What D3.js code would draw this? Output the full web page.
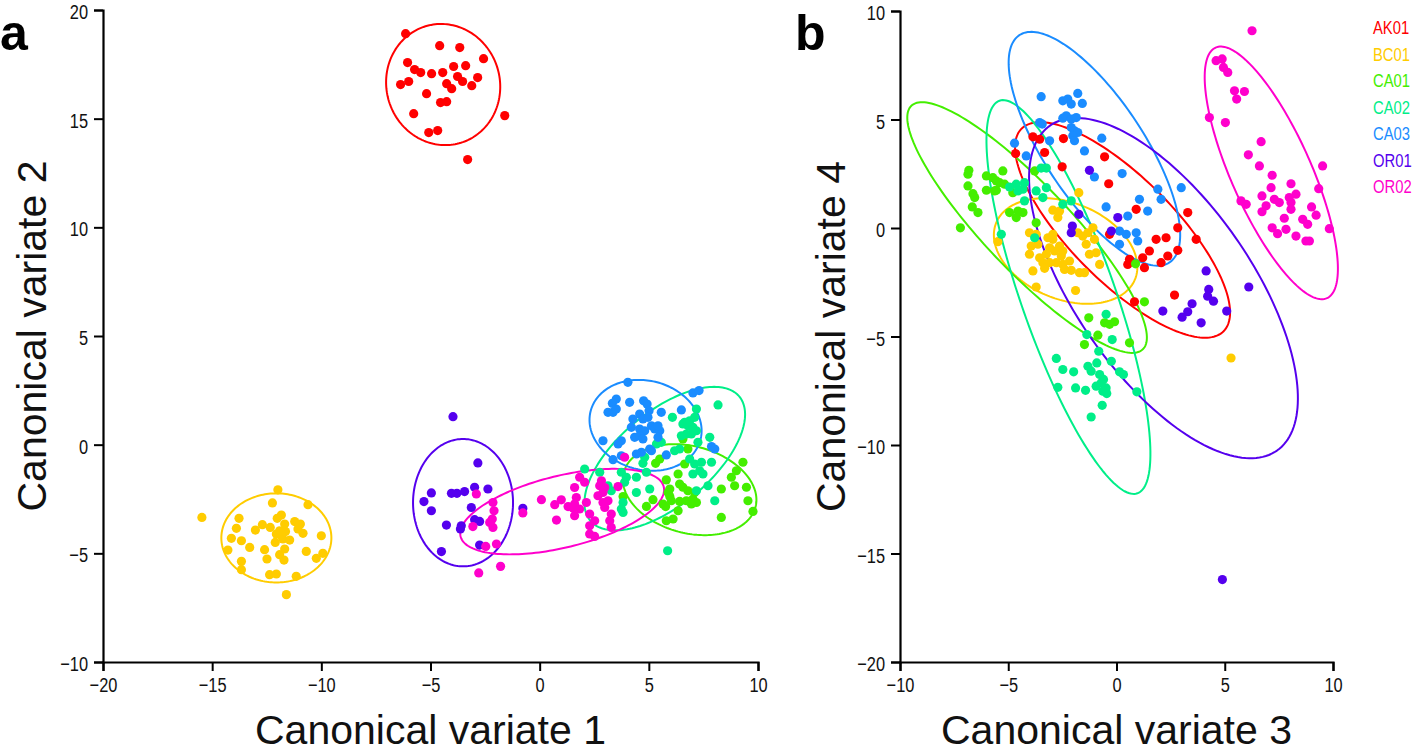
<!DOCTYPE html>
<html><head><meta charset="utf-8">
<script src="https://cdn.jsdelivr.net/npm/d3@7"></script>
<style>body{margin:0;background:#fff;overflow:hidden} svg{display:block}</style>
</head><body>
<script>
// ---------- categories / colours ----------
const groups = ["AK01","BC01","CA01","CA02","CA03","OR01","OR02"];
const colors = ["#ff0000","#ffcc00","#44ee00","#00ee88","#1a8cff","#5500ee","#ff00cc"];

// ---------- tick labels ----------
const xTicksA = [-20,-15,-10,-5,0,5,10];
const yTicksA = [-10,-5,0,5,10,15,20];
const xTicksB = [-10,-5,0,5,10];
const yTicksB = [-20,-15,-10,-5,0,5,10];

// ---------- panel a: Canonical variate 1 (x) vs 2 (y) ----------
const a_AK01 = [[-6.14,18.91],[-4.58,18.36],[-3.66,18.27],[-2.57,17.76],[-6.05,17.58],[-5.73,17.26],[-5.45,17.12],[-4.95,17.07],[-4.44,17.12],[-3.94,17.40],[-3.39,17.44],[-3.76,16.94],[-3.53,16.71],[-2.84,16.89],[-3.11,16.52],[-4.26,16.61],[-4.03,16.38],[-6.37,16.57],[-6.00,16.71],[-5.18,16.15],[-4.54,15.74],[-4.26,15.78],[-5.77,15.23],[-5.08,14.36],[-4.67,14.45],[-1.60,15.14],[-3.30,13.12]];
const a_BC01 = [[-11.99,-2.08],[-12.24,-2.68],[-10.61,-2.76],[-15.47,-3.35],[-13.77,-3.39],[-11.83,-3.24],[-12.02,-3.39],[-12.70,-3.68],[-12.34,-3.81],[-11.68,-3.65],[-11.22,-3.54],[-10.96,-3.65],[-11.07,-3.88],[-13.89,-3.85],[-13.02,-3.93],[-11.91,-3.96],[-11.64,-4.00],[-10.84,-4.08],[-10.00,-4.19],[-14.12,-4.31],[-13.66,-4.42],[-11.76,-4.34],[-11.45,-4.39],[-12.11,-4.50],[-13.28,-4.73],[-12.60,-4.83],[-11.68,-4.80],[-14.28,-4.85],[-10.69,-4.91],[-11.91,-5.06],[-9.93,-5.00],[-10.23,-5.23],[-12.49,-5.26],[-11.71,-5.31],[-13.66,-5.37],[-13.66,-5.75],[-12.37,-5.98],[-12.06,-5.95],[-11.15,-6.06],[-11.60,-6.90],[-12.06,-4.11],[-11.83,-4.19]];
const a_CA01 = [[6.56,0.26],[6.79,-0.20],[5.31,-0.86],[5.50,-0.66],[6.34,-1.35],[6.64,-0.89],[5.80,-1.62],[6.41,-1.81],[6.56,-1.96],[6.79,-2.12],[5.96,-2.04],[5.88,-2.20],[5.96,-2.39],[6.03,-2.58],[5.65,-2.73],[5.77,-2.85],[3.82,-2.39],[5.19,-2.53],[4.89,-2.84],[6.41,-2.61],[6.72,-2.58],[7.02,-2.50],[7.18,-2.66],[6.95,-2.73],[6.34,-3.04],[5.80,-3.50],[6.11,-3.42],[7.10,-2.20],[8.32,-2.04],[8.93,-1.89],[8.78,-1.50],[9.01,-1.20],[9.31,-0.81],[9.47,-1.96],[9.54,-2.58],[9.77,-3.07],[8.32,-3.35]];
const a_CA02 = [[6.56,0.95],[6.79,0.87],[7.02,0.80],[7.18,0.64],[6.49,0.41],[6.72,0.49],[6.95,0.49],[7.25,0.11],[7.79,0.34],[5.35,0.03],[5.57,0.11],[6.18,-0.28],[6.41,-0.20],[4.73,-0.86],[4.89,-1.27],[7.10,-0.89],[7.41,-0.81],[7.33,-1.20],[7.02,-1.35],[7.48,-1.35],[7.87,-0.81],[7.18,-2.12],[7.71,-1.89],[8.02,-2.58],[2.06,-1.12],[2.75,-1.27],[3.74,-1.27],[3.97,-1.50],[4.43,-1.50],[3.89,-1.73],[3.13,-1.89],[3.28,-2.12],[4.43,-2.20],[5.04,-2.04],[3.82,-2.66],[3.74,-2.96],[3.82,-3.12],[8.17,1.83],[7.18,1.64],[6.08,1.26],[6.64,1.03],[6.87,1.10],[7.10,1.26],[6.87,-0.66],[4.81,-0.58],[5.86,-4.88]];
const a_CA03 = [[4.04,2.87],[7.02,2.38],[7.30,2.49],[3.51,2.10],[3.33,1.90],[3.13,1.49],[3.36,1.49],[3.51,1.64],[4.12,1.95],[4.76,2.02],[4.92,1.87],[5.01,1.56],[4.58,1.41],[4.27,1.18],[4.73,1.18],[4.96,1.26],[5.57,1.49],[6.49,1.60],[4.20,0.80],[4.58,0.72],[4.81,0.64],[4.35,0.34],[4.58,0.41],[4.73,0.26],[5.12,0.87],[5.27,0.72],[5.50,0.64],[5.42,0.87],[2.90,0.18],[3.74,0.18],[3.59,0.03],[5.04,-0.20],[5.12,-0.28],[4.66,-0.35],[4.43,-0.43],[3.36,-0.69],[3.74,-0.51],[5.80,-0.47],[7.87,-0.09],[8.02,-0.20],[5.42,0.34]];
const a_OR01 = [[-3.97,1.29],[-2.83,-0.84],[-4.96,-2.22],[-4.04,-2.24],[-3.79,-2.24],[-3.44,-2.16],[-2.98,-1.96],[-2.37,-2.04],[-5.30,-2.62],[-4.96,-3.04],[-3.13,-2.89],[-2.98,-3.45],[-2.75,-3.53],[-4.27,-3.70],[-3.59,-3.73],[-3.63,-3.88],[-0.77,-2.93],[-2.75,-4.62],[-4.50,-4.92]];
const a_OR02 = [[-2.90,-2.27],[-2.14,-2.66],[-2.09,-3.04],[-2.17,-3.42],[-2.29,-3.58],[-2.14,-3.81],[-3.06,-3.77],[-0.77,-3.14],[-2.47,-4.68],[-1.98,-4.57],[-1.79,-5.60],[-2.79,-5.90],[0.08,-2.53],[0.69,-2.76],[0.99,-2.54],[1.30,-2.85],[1.53,-2.91],[0.77,-3.47],[1.83,-1.50],[2.06,-1.73],[1.60,-1.97],[2.83,-1.66],[2.75,-1.89],[2.98,-1.97],[2.90,-2.20],[2.67,-2.35],[3.59,-1.93],[1.68,-2.43],[2.14,-2.66],[1.60,-2.73],[1.83,-2.96],[2.90,-2.66],[3.13,-2.58],[2.98,-2.89],[2.29,-3.19],[3.28,-3.19],[1.60,-3.27],[2.52,-3.50],[3.21,-3.50],[2.29,-3.73],[3.28,-3.81],[2.29,-4.11],[2.52,-4.22],[3.89,-0.58]];

// ---------- panel b: Canonical variate 3 (x) vs 4 (y) ----------
const b_AK01 = [[-3.86,4.20],[-3.55,4.09],[-2.45,4.12],[-4.66,3.43],[-3.32,3.48],[-2.51,2.82],[-0.55,3.28],[-0.36,2.04],[0.91,0.86],[-0.32,-0.29],[1.83,-0.52],[2.29,-0.45],[0.60,-1.44],[1.21,-1.37],[1.52,-1.06],[0.52,-1.68],[1.29,-1.83],[2.06,-1.60],[0.83,-3.40],[3.29,0.71],[2.83,0.01],[3.68,-0.52],[2.83,-1.03],[2.37,-1.29],[2.68,-3.09]];
const b_BC01 = [[-1.74,1.63],[-2.94,0.82],[-2.63,0.78],[-2.71,0.48],[-4.02,-0.22],[-3.71,-0.29],[-3.94,-0.83],[-3.63,-0.75],[-3.17,-0.45],[-2.94,-0.29],[-2.94,-0.52],[-5.48,-0.63],[-4.02,-1.21],[-3.55,-1.37],[-3.24,-1.21],[-3.09,-0.91],[-2.86,-1.06],[-2.63,-0.83],[-2.48,-1.06],[-2.55,-1.29],[-1.79,-0.22],[-1.56,-0.37],[-1.32,-0.22],[-1.09,0.01],[-1.02,-0.52],[-1.40,-0.75],[-1.25,-1.21],[-0.94,-1.14],[-3.40,-1.60],[-3.09,-1.60],[-2.78,-1.60],[-2.48,-1.68],[-2.17,-1.52],[-3.86,-1.98],[-3.32,-1.86],[-2.40,-1.91],[-2.09,-1.95],[-1.71,-2.06],[-1.48,-2.06],[-0.78,-1.68],[-3.71,-2.72],[-1.89,-2.88],[5.29,-5.99]];
const b_CA01 = [[-6.82,2.66],[-6.86,2.48],[-6.01,2.40],[-5.71,2.32],[-5.55,2.17],[-5.25,2.63],[-5.40,2.09],[-5.17,2.02],[-5.55,1.74],[-6.86,1.94],[-6.63,1.58],[-6.55,1.40],[-6.01,1.74],[-5.63,1.71],[-6.66,0.97],[-6.40,0.71],[-7.21,0.01],[-4.94,0.71],[-4.55,0.78],[-4.32,0.71],[-4.63,0.48],[-4.79,1.63],[-3.71,0.24],[-3.78,2.63],[1.29,-3.40],[0.88,-1.65],[-1.28,-4.14],[-0.55,-4.37],[-0.32,-4.44],[-0.09,-4.32],[-0.86,-4.94],[-1.48,-5.37],[0.60,-5.29]];
const b_CA02 = [[-3.48,2.76],[-3.24,2.76],[-4.63,2.02],[-4.25,2.09],[-4.55,1.71],[-4.32,1.79],[-3.71,1.71],[-3.40,1.40],[-3.24,1.86],[-4.94,1.89],[-4.25,1.25],[-2.48,1.09],[-2.09,1.25],[-5.32,-0.29],[-3.78,-0.45],[-0.48,-3.98],[-1.37,-4.91],[-0.82,-5.68],[-0.91,-6.22],[-0.24,-6.14],[-2.78,-6.01],[-2.48,-6.52],[-1.98,-6.63],[-1.32,-6.37],[-1.17,-6.60],[-0.78,-6.75],[-0.60,-6.98],[-0.71,-7.14],[-0.48,-7.37],[0.14,-6.63],[0.32,-6.75],[-2.71,-7.34],[-1.89,-7.37],[-1.43,-7.48],[-0.94,-7.29],[-0.63,-7.52],[-0.45,-7.63],[0.94,-7.55],[-0.66,-8.17],[-1.17,-8.71],[-0.20,-5.14]];
const b_CA03 = [[-3.48,6.05],[-2.48,5.86],[-2.25,5.94],[-2.09,5.71],[-1.79,6.20],[-1.58,5.74],[-2.48,5.06],[-2.32,5.17],[-2.09,5.02],[-1.86,5.09],[-2.09,4.63],[-1.94,4.48],[-1.79,4.40],[-2.02,4.25],[-1.94,4.02],[-3.55,4.86],[-3.43,4.79],[-4.71,3.91],[-4.17,3.32],[-3.09,4.02],[-1.48,3.55],[-0.68,4.14],[-1.02,2.35],[0.26,2.51],[-0.48,0.97],[0.52,0.55],[1.06,1.32],[1.44,0.78],[1.91,1.79],[2.06,1.32],[0.14,-0.14],[0.45,-0.29],[0.14,-0.75],[0.91,-0.22],[0.98,-0.60],[2.99,1.86]];
const b_OR01 = [[-1.25,2.66],[-1.74,0.63],[0.06,0.48],[-2.04,0.09],[-2.09,-0.22],[-0.24,-0.14],[2.14,-3.83],[3.03,-4.11],[3.29,-3.86],[3.49,-3.49],[4.26,-2.83],[4.21,-3.14],[4.48,-3.37],[3.91,-4.37],[5.09,-3.83],[6.11,-2.72],[4.14,-1.98],[4.89,-16.20]];
const b_OR02 = [[6.26,9.09],[4.60,7.71],[4.88,7.79],[4.94,7.40],[5.14,7.17],[5.45,6.32],[5.91,6.29],[5.55,5.94],[4.29,5.09],[5.03,4.86],[6.68,3.98],[6.09,3.37],[6.60,2.86],[7.19,2.43],[9.52,2.86],[7.14,1.86],[8.06,2.04],[8.29,1.56],[6.72,1.48],[7.29,1.32],[7.52,1.17],[7.98,1.40],[8.06,1.17],[5.75,1.25],[5.99,1.09],[6.91,1.02],[6.72,0.75],[8.06,0.86],[9.01,0.97],[9.22,0.59],[9.34,1.81],[7.75,0.45],[8.60,0.40],[8.83,0.17],[7.19,0.01],[7.44,-0.26],[7.83,-0.06],[8.29,-0.37],[8.75,-0.60],[8.91,-0.60],[9.83,-0.03]];

// ---------- confidence ellipses: [centreX, centreY, semiAxisA, semiAxisB, angleDeg] ----------
const ellipsesA = [[-4.42,16.57,2.8,2.6,105],[-12.06,-4.29,2.52,2.05,0],[6.87,-2.07,3.12,2.0,-15],[5.73,-0.64,4.45,2.15,40],[4.85,0.89,2.6,2.05,-15],[-3.51,-2.67,2.93,2.29,90],[1.03,-3.08,4.79,1.65,13.8]];
const ellipsesB = [[0.28,-0.09,6.6,2.4,-45],[-2.35,-1.06,3.46,2.22,-22],[-4.13,0.02,7.75,1.98,-46.4],[-2.22,-3.18,9.59,2.17,-70.6],[-1.02,3.65,6.28,2.3,123.5],[2.17,-2.77,9.14,4.06,-55],[7.15,2.54,6.32,1.85,114]];

const pointsA = [a_AK01,a_BC01,a_CA01,a_CA02,a_CA03,a_OR01,a_OR02];
const pointsB = [b_AK01,b_BC01,b_CA01,b_CA02,b_CA03,b_OR01,b_OR02];

// ---------- drawing ----------
const W = 1418, H = 753;
const svg = d3.select("body").append("svg").attr("width", W).attr("height", H);
const font = "'Liberation Sans',Arial,sans-serif";
const NARROW = 0.8;   // horizontal squeeze for the condensed tick / legend lettering

function ellipsePts(e) {
  const [cx, cy, a, b, ang] = e;
  const th = ang * Math.PI / 180;
  return d3.range(0, 360, 2).map(d => {
    const t = d * Math.PI / 180;
    return [cx + a*Math.cos(t)*Math.cos(th) - b*Math.sin(t)*Math.sin(th),
            cy + a*Math.cos(t)*Math.sin(th) + b*Math.sin(t)*Math.cos(th)];
  });
}

function panel(cfg) {
  const x = d3.scaleLinear().domain(cfg.xd).range(cfg.xr);
  const y = d3.scaleLinear().domain(cfg.yd).range(cfg.yr);
  const g = svg.append("g");
  const line = d3.line().x(d => x(d[0])).y(d => y(d[1])).curve(d3.curveLinearClosed);

  g.append("g").selectAll("path").data(cfg.ell).join("path")
    .attr("d", e => line(ellipsePts(e)))
    .attr("fill", "none")
    .attr("stroke", (e, i) => colors[i])
    .attr("stroke-width", 2);

  cfg.pts.forEach((arr, i) => {
    g.append("g").selectAll("circle").data(arr).join("circle")
      .attr("cx", d => x(d[0])).attr("cy", d => y(d[1]))
      .attr("r", 4.6).attr("fill", colors[i]);
  });

  const xa = g.append("g").attr("transform", `translate(0,${cfg.yr[0]})`)
    .call(d3.axisBottom(x).tickValues(cfg.xt).tickSizeOuter(0).tickSize(9).tickPadding(6).tickFormat(d3.format("d")));
  const ya = g.append("g").attr("transform", `translate(${cfg.xr[0]},0)`)
    .call(d3.axisLeft(y).tickValues(cfg.yt).tickSizeOuter(0).tickSize(9).tickPadding(3).tickFormat(d3.format("d")));
  [xa, ya].forEach(ax => {
    ax.select(".domain").attr("stroke", "#000").attr("stroke-width", 2.2);
    ax.selectAll(".tick line").attr("stroke", "#000").attr("stroke-width", 2);
    ax.selectAll(".tick text").attr("fill", "#111").attr("font-size", 20.5).attr("font-family", font)
      .attr("transform", `scale(${NARROW},1)`);
  });
  xa.selectAll(".tick text").attr("y", 15);
  ya.selectAll(".tick text").attr("x", -15 / NARROW).attr("dy", "0.42em");

  g.append("text").attr("x", (cfg.xr[0]+cfg.xr[1])/2).attr("y", 744)
    .attr("text-anchor", "middle").attr("font-size", 41).attr("font-family", font)
    .attr("fill", "#111").text(cfg.xTitle);
  const yc = (cfg.yr[0]+cfg.yr[1])/2;
  g.append("text").attr("transform", `translate(${cfg.yTitleX},${yc}) rotate(-90)`)
    .attr("text-anchor", "middle").attr("font-size", 41).attr("font-family", font)
    .attr("fill", "#111").text(cfg.yTitle);
  g.append("text").attr("x", cfg.labX).attr("y", 50).attr("font-size", 50).attr("font-weight", "bold")
    .attr("font-family", font).attr("fill", "#000").text(cfg.lab);
}

panel({xd:[-20,10], xr:[103,758], yd:[-10,20], yr:[662,10], xt:xTicksA, yt:yTicksA,
       pts:pointsA, ell:ellipsesA, xTitle:"Canonical variate 1", yTitle:"Canonical variate 2",
       yTitleX:46, lab:"a", labX:0});
panel({xd:[-10,10], xr:[900,1333], yd:[-20,10], yr:[662,11], xt:xTicksB, yt:yTicksB,
       pts:pointsB, ell:ellipsesB, xTitle:"Canonical variate 3", yTitle:"Canonical variate 4",
       yTitleX:845, lab:"b", labX:795});

// legend
svg.append("g").selectAll("text").data(groups).join("text")
  .attr("transform", (d, i) => `translate(1373,${34 + i * 26.5}) scale(${NARROW},1)`)
  .attr("font-size", 18.5).attr("font-family", font)
  .attr("fill", (d, i) => colors[i]).text(d => d);
</script>
</body></html>
